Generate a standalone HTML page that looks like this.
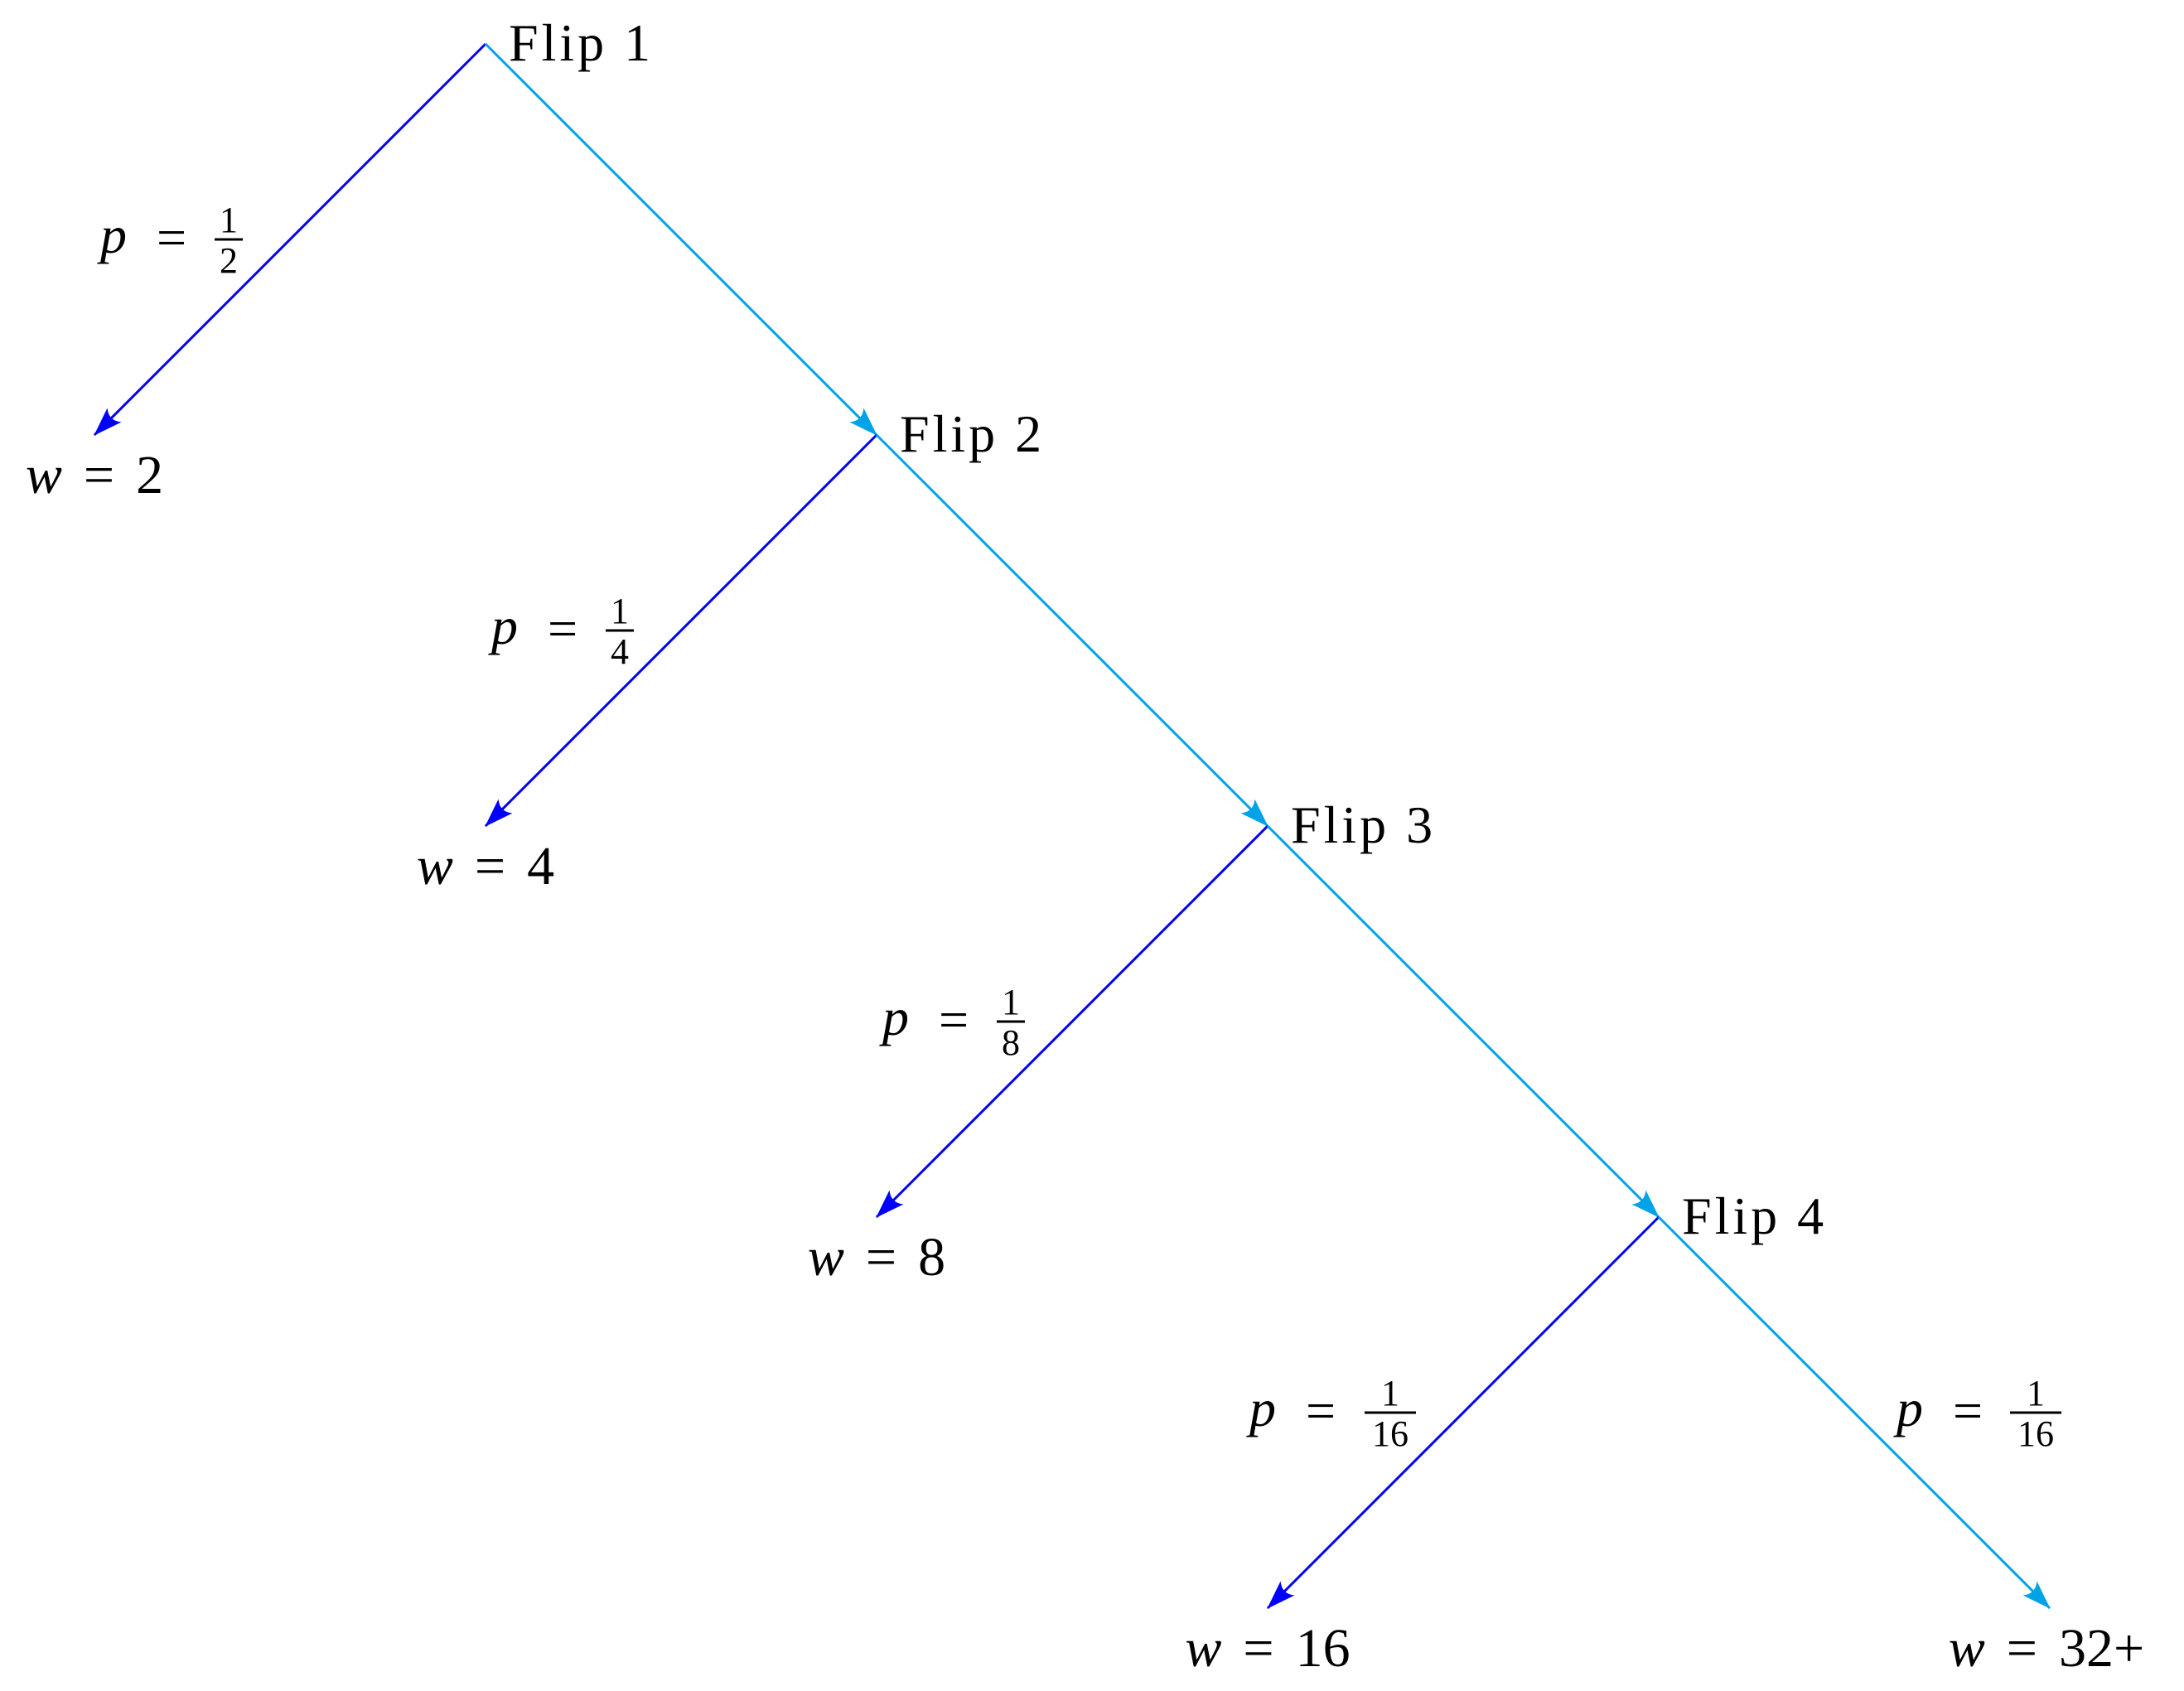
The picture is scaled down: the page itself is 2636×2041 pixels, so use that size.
<!DOCTYPE html>
<html><head><meta charset="utf-8"><style>
html,body{margin:0;padding:0;background:#fff}
svg{display:block}
text{font-family:"Liberation Serif",serif;fill:#000}
</style></head><body>
<svg id="chart" width="2636" height="2041" viewBox="0 0 2636 2041" xmlns="http://www.w3.org/2000/svg">
<defs>
<marker id="ab" viewBox="0 0 10 10" refX="0" refY="0" markerWidth="10" markerHeight="10" markerUnits="userSpaceOnUse" orient="auto" style="overflow:visible"><path d="M-34,-12 Q-24,0 -34,12 L1,0 Z" fill="#0000ff"/></marker>
<marker id="ac" viewBox="0 0 10 10" refX="0" refY="0" markerWidth="10" markerHeight="10" markerUnits="userSpaceOnUse" orient="auto" style="overflow:visible"><path d="M-34,-12 Q-24,0 -34,12 L1,0 Z" fill="#00a2e8"/></marker>
</defs>
<g id="g"></g>
</svg>
<script>
const flips = ["Flip 1","Flip 2","Flip 3","Flip 4"];
const winnings = ["2","4","8","16"];
const probDen = ["2","4","8","16"];
const finalWin = "32+";
const finalDen = "16";

const NS="http://www.w3.org/2000/svg";
const g=document.getElementById('g');
const x0=586,y0=53,step=472;
const nx=i=>x0+i*step, ny=i=>y0+i*step;
function el(tag,attrs,txt){const e=document.createElementNS(NS,tag);for(const k in attrs)e.setAttribute(k,attrs[k]);if(txt!==undefined)e.textContent=txt;g.appendChild(e);return e;}
function line(x1,y1,x2,y2,col,mk){return el('line',{x1:x1,y1:y1,x2:x2,y2:y2,stroke:col,'stroke-width':3,'marker-end':'url(#'+mk+')'});}
function plabel(pLeft,fc,cy,den){
  const t=el('text',{x:pLeft,y:cy+16,'font-size':64,'font-style':'italic'},'p');
  
  
  const e=el('text',{x:pLeft+86,y:cy+19,'font-size':64,'text-anchor':'middle'},'=');
  
  
  const n=el('text',{x:fc,y:cy-9,'font-size':44,'text-anchor':'middle'},'1');
  
  
  const bw=den.length>1?62:34;
  const b=el('line',{x1:fc-bw/2,y1:cy,x2:fc+bw/2,y2:cy,stroke:'#000','stroke-width':3});
  
  
  const d=el('text',{x:fc,y:cy+40,'font-size':44,'text-anchor':'middle'},den);
  
  
}
function wlabel(cx,y,val){
  const t=el('text',{x:cx,y:y,'font-size':66,'text-anchor':'middle'});
  
  
  const a=document.createElementNS(NS,'tspan');a.setAttribute('font-style','italic');a.textContent='w';t.appendChild(a);
  const b=document.createElementNS(NS,'tspan');b.setAttribute('dx','26');b.textContent='=';t.appendChild(b);
  const c=document.createElementNS(NS,'tspan');c.setAttribute('dx','26');c.textContent=val;t.appendChild(c);
}
flips.forEach((f,i)=>{
  const x=nx(i),y=ny(i);
  const l=line(x,y,x-step,y+step,'#0000ff','ab');
  
  
  const r=line(x,y,x+step,y+step,'#00a2e8','ac');
  
  
  const t=el('text',{x:x+28,y:y+20,'font-size':64,'letter-spacing':4},f);
  
  
  const mx=x-step/2, my=y+step/2;
  const two=probDen[i].length>1;
  plabel(mx-(two?258:229), mx-(two?88:74), my, probDen[i]);
  wlabel(x-step,y+step+70,winnings[i]);
});
const lx=nx(flips.length-1),ly=ny(flips.length-1);
plabel(lx+step/2+51, lx+step/2+219, ly+step/2, finalDen);
wlabel(lx+step-4,ly+step+70,finalWin);
</script>
</body></html>
